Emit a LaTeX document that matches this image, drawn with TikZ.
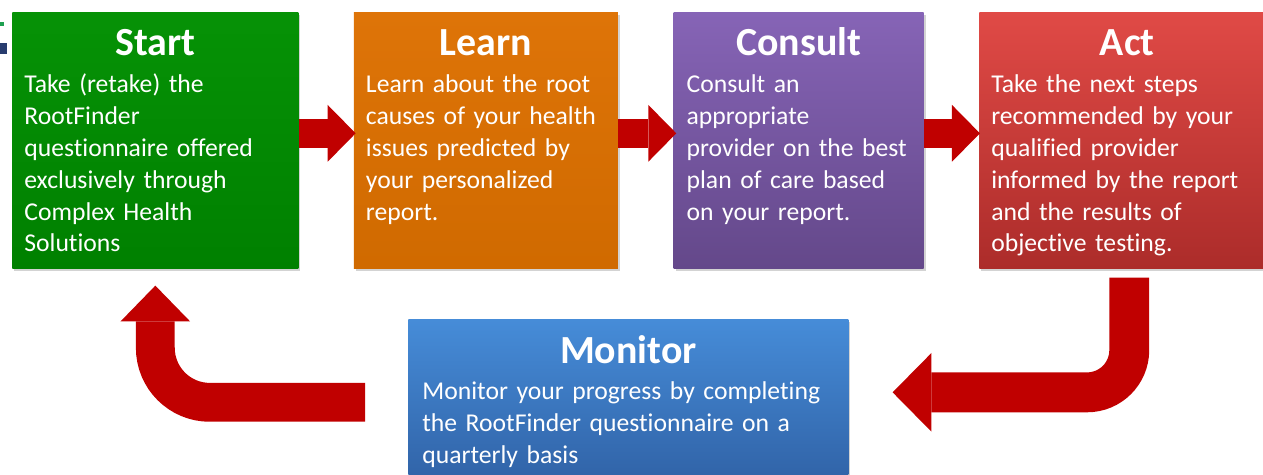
\documentclass[tikz,border=0pt]{standalone}
\usepackage{fontspec}
\setmainfont[Ligatures=NoCommon]{Carlito}
\usetikzlibrary{positioning,calc,arrows.meta,shadows}

\definecolor{arrowred}{RGB}{192,0,0}
\definecolor{startgreen}{RGB}{6,146,6}
\definecolor{startgreendk}{RGB}{0,128,0}
\definecolor{learnorange}{RGB}{222,116,8}
\definecolor{learnorangedk}{RGB}{208,106,0}
\definecolor{consultpurple}{RGB}{134,100,182}
\definecolor{consultpurpledk}{RGB}{100,72,138}
\definecolor{actred}{RGB}{224,74,70}
\definecolor{actreddk}{RGB}{172,44,42}
\definecolor{monitorblue}{RGB}{70,140,216}
\definecolor{monitorbluedk}{RGB}{48,98,166}
\definecolor{logogreen}{RGB}{30,160,80}
\definecolor{logonavy}{RGB}{40,60,110}

\tikzset{
  stepbox/.style={minimum height=5.12cm, inner sep=0pt,
    drop shadow={shadow xshift=1.2pt, shadow yshift=-1.5pt, opacity=0.35}},
  boxtitle/.style={text=white, inner sep=0pt, anchor=base,
    font=\fontsize{22.7}{27}\selectfont\bfseries},
  boxtext/.style={text=white, inner sep=0pt, anchor=base west, align=left,
    font=\fontsize{14.6}{18.1}\selectfont},
  flowarrow/.style={draw=arrowred, line width=16.4pt,
    -{Triangle[length=15.9pt, width=32.3pt, line width=0pt]}},
  looparrow/.style={draw=arrowred, line width=#1pt},
}

\begin{document}
\begin{tikzpicture}[x=0.02cm, y=-0.02cm, node distance=1.1cm]
\useasboundingbox (0,0) rectangle (1263,475);

% logo remnant at the left edge
\fill[logogreen] (0,22) rectangle (4,26);
\fill[logonavy] (0,43) rectangle (7,54);

% the four steps in a row
\node[stepbox, minimum width=5.72cm, top color=startgreen, bottom color=startgreendk,
  anchor=north west] (start) at (12,12) {};
\node[stepbox, minimum width=5.28cm, top color=learnorange, bottom color=learnorangedk,
  right=of start] (learn) {};
\node[stepbox, minimum width=5.0cm, top color=consultpurple, bottom color=consultpurpledk,
  right=of learn] (consult) {};
\node[stepbox, minimum width=5.92cm, top color=actred, bottom color=actreddk,
  right=of consult] (act) {};

% monitor below
\node[stepbox, minimum width=8.8cm, minimum height=3.32cm, top color=monitorblue,
  bottom color=monitorbluedk, anchor=north west] (monitor) at (408,319) {};

% titles
\node[boxtitle] (starttitle) at ($(start.north)+(0,44)$) {Start};
\node[boxtitle] (learntitle) at ($(learn.north)+(0,44)$) {Learn};
\node[boxtitle] (consulttitle) at ($(consult.north)+(0,44)$) {Consult};
\node[boxtitle] (acttitle) at ($(act.north)+(0,44)$) {Act};
\node[boxtitle] (monitortitle) at ($(monitor.north)+(0,45)$) {Monitor};

% texts
\node[boxtext, text width=5.5cm] (starttext) at ($(start.north west)+(12,81)$)
  {Take (retake) the\\RootFinder\\questionnaire offered\\exclusively through\\Complex Health\\Solutions};
\node[boxtext, text width=5.1cm] (learntext) at ($(learn.north west)+(12,81)$)
  {Learn about the root\\causes of your health\\issues predicted by\\your personalized\\report.};
\node[boxtext, text width=4.8cm] (consulttext) at ($(consult.north west)+(13,81)$)
  {Consult an\\appropriate\\provider on the best\\plan of care based\\on your report.};
\node[boxtext, text width=5.7cm] (acttext) at ($(act.north west)+(12,81)$)
  {Take the next steps\\recommended by your\\qualified provider\\informed by the report\\and the results of\\objective testing.};
\node[boxtext, text width=8.6cm] (monitortext) at ($(monitor.north west)+(14,81)$)
  {Monitor your progress by completing\\the RootFinder questionnaire on a\\quarterly basis};

% arrows between the steps
\draw[flowarrow] ($(start.east)+(0,-7)$) -- ($(learn.west)+(2,-7)$);
\draw[flowarrow] ($(learn.east)+(0,-7)$) -- ($(consult.west)+(3,-7)$);
\draw[flowarrow] ($(consult.east)+(0,-7)$) -- ($(act.west)+(1,-7)$);

% back round the loop
\draw[looparrow=22.7, rounded corners=24pt,
  -{Triangle[length=22.1pt, width=44.8pt, line width=0pt]}]
  ($(act.south)+(2,9)$) |- ($(monitor.east)+(44,-10)$);
\draw[looparrow=22.1, rounded corners=31pt,
  -{Triangle[length=20.4pt, width=39.7pt, line width=0pt]}]
  ($(monitor.west)+(-43,0)$) -| ($(start.south)+(0,17)$);
\end{tikzpicture}
\end{document}
